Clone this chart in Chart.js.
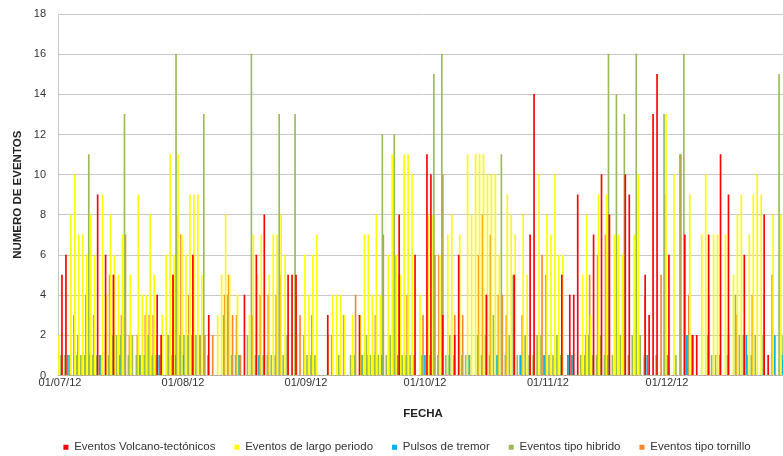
<!DOCTYPE html>
<html>
<head>
<meta charset="utf-8">
<script src="https://cdn.jsdelivr.net/npm/chart.js@4.4.0/dist/chart.umd.min.js"></script>
<style>
    html, body { margin: 0; padding: 0; background: #fff; overflow: hidden; }
    /* the original picture is cropped on the right, so the chart is a bit wider than the window */
    #wrap { width: 812px; height: 456px; position: relative; }
</style>
</head>
<body>
<div id="wrap"><canvas id="eventosChart"></canvas></div>
<script>
// daily counts from 01/07/12 on (one value per day)
var volcanoTectonicos = [
    0,5,6,0,0,0,0,0,0,0, 9,0,6,0,5,0,0,0,0,0, 0,0,0,0,0,4,2,0,0,5, 0,
    0,0,0,6,0,0,0,3,0,0, 0,0,0,0,0,0,4,0,0,6, 0,8,0,0,0,0,0,5,5,5, 0,
    0,0,0,0,0,0,3,0,0,0, 0,0,0,0,3,0,0,0,0,0, 0,0,0,0,8,0,0,0,6,0,
    0,11,10,0,0,3,0,0,2,6, 0,0,0,0,0,0,4,0,0,0, 0,0,0,5,0,0,0,7,14,0, 0,
    0,0,0,0,5,0,4,4,9,0, 0,0,7,0,10,0,8,0,0,0, 10,9,0,0,0,5,3,13,15,0,
    0,6,0,0,0,7,0,2,2,0, 0,7,0,0,11,0,9,0,0,0, 6,0,0,0,0,8,1,0,0,0
];
var largoPeriodo = [
    2,0,0,8,10,7,7,6,8,6, 0,9,4,8,6,5,7,0,5,0, 9,4,4,8,5,0,3,6,11,6, 11,
    7,6,9,9,9,5,0,0,0,3, 5,8,5,0,4,0,0,3,7,5, 7,0,5,7,7,8,6,0,0,2, 0,
    6,4,6,7,0,0,0,4,4,4, 3,0,3,0,3,7,7,4,8,4, 0,6,11,6,5,11,11,10,0,4,
    0,8,8,0,6,0,7,8,0,7, 0,11,8,11,11,11,10,10,10,6, 0,9,8,7,0,8,5,0,0,10, 0,
    8,7,10,6,6,0,0,0,0,5, 8,3,0,9,0,9,0,7,7,6, 0,0,7,10,0,0,0,0,0,0,
    13,0,10,0,0,0,9,0,0,7, 10,0,7,7,0,7,0,5,8,9, 0,7,9,10,9,0,0,8,0,8
];
var pulsosTremor = [
    0,0,1,0,0,0,0,0,0,0, 1,0,0,0,0,1,0,0,0,0, 1,0,0,0,0,1,0,0,0,1, 0,
    1,0,0,0,0,0,0,0,0,0, 0,0,0,0,1,0,0,0,0,1, 0,0,0,0,0,0,0,0,0,0, 0,
    0,0,0,0,0,0,0,0,0,0, 0,0,0,0,1,0,0,0,0,1, 0,0,0,1,0,0,0,0,0,0,
    1,0,0,0,0,0,1,0,0,0, 0,1,0,0,0,0,0,0,1,0, 0,0,0,0,1,0,0,0,0,0, 1,
    0,0,0,0,0,1,1,0,0,0, 0,0,0,0,0,1,0,0,0,0, 0,0,0,0,0,1,0,0,0,0,
    1,0,0,0,0,2,0,0,0,0, 0,0,0,0,0,0,0,0,0,0, 2,0,0,0,0,0,0,2,0,1
];
var tipoHibrido = [
    1,1,0,0,1,1,1,11,1,1, 1,0,1,2,2,2,13,1,2,1, 1,1,2,1,1,1,0,2,1,16, 2,
    2,2,2,2,2,13,1,0,0,0, 3,4,1,1,1,0,2,16,1,1, 1,1,1,1,13,1,2,0,13,0, 0,
    1,1,1,0,0,0,0,0,1,0, 0,1,1,0,1,2,1,1,1,12, 1,2,12,1,1,1,1,1,0,1,
    0,1,15,1,16,1,2,1,0,1, 1,1,0,2,1,2,1,3,1,11, 1,2,5,1,1,2,1,1,2,2, 1,
    1,1,2,1,0,1,1,0,1,1, 2,1,1,2,1,16,1,14,2,13, 1,2,16,2,1,0,0,1,0,13,
    1,0,1,11,16,2,2,0,0,0, 2,1,1,1,0,1,0,4,2,2, 1,1,2,0,2,0,0,2,15,2
];
var tipoTornillo = [
    1,0,1,3,2,0,4,1,3,0, 0,2,5,5,0,3,7,2,0,2, 0,3,3,3,2,0,0,2,5,8, 7,
    0,4,3,0,2,2,0,2,0,0, 4,5,3,3,1,0,0,3,0,4, 1,4,0,4,5,0,0,0,4,3, 2,
    0,3,0,0,0,2,2,0,0,3, 0,0,4,0,0,1,0,3,0,7, 0,0,6,5,0,4,0,0,0,3,
    0,0,6,6,10,0,0,3,0,3, 0,0,0,6,8,4,7,0,4,4, 3,0,0,0,3,0,0,0,0,6, 5,
    0,0,0,5,0,0,0,0,0,2, 5,0,6,0,7,0,0,0,0,0, 0,0,0,0,4,0,0,0,5,9,
    0,0,0,11,0,4,0,0,0,0, 4,0,0,0,0,2,0,3,0,0, 0,4,0,0,4,0,5,0,0,0
];

var seriesNames = ["Eventos Volcano-tectónicos", "Eventos de largo periodo", "Pulsos de tremor", "Eventos tipo hibrido", "Eventos tipo tornillo"];
var seriesColors = ["#ff0000", "#ffff00", "#00b0f0", "#9bbb59", "#f8862e"];
var yTicks = [0, 2, 4, 6, 8, 10, 12, 14, 16, 18];
var numDias = 184; // 01/07/12 .. 31/12/12

// day labels dd/mm/yy
var fechas = [];
var d = new Date(2012, 6, 1);
for (var i = 0; i < numDias; i++) {
    var dd = ("0" + d.getDate()).slice(-2);
    var mm = ("0" + (d.getMonth() + 1)).slice(-2);
    fechas.push(dd + "/" + mm + "/12");
    d.setDate(d.getDate() + 1);
}

var allSeries = [volcanoTectonicos, largoPeriodo, pulsosTremor, tipoHibrido, tipoTornillo];
var datasets = allSeries.map(function(values, k) {
    return {
        label: seriesNames[k],
        data: values,
        backgroundColor: seriesColors[k],
        borderWidth: 0,
        barThickness: 1,
        grouped: true
    };
});

// legend box only spans up to the plot's right edge, nudge it to sit centred under the whole picture
var legendShift = {
    id: 'legendShift',
    afterLayout: function(chart) {
        chart.legend.left += 13;
        chart.legend.right += 13;
    }
};

Chart.defaults.font.family = "'Liberation Sans', Arial, sans-serif";
Chart.defaults.color = "#333";

var ctx = document.querySelector("#eventosChart").getContext("2d");
var eventosChart = new Chart(ctx, {
    type: 'bar',
    data: { labels: fechas, datasets: datasets },
    plugins: [legendShift],
    options: {
        responsive: true,
        maintainAspectRatio: false,
        animation: false,
        devicePixelRatio: 1,
        layout: { padding: { top: 14, right: 24, left: 0, bottom: -7 } },
        plugins: {
            tooltip: { enabled: false },
            legend: {
                position: 'bottom',
                labels: {
                    boxWidth: 5,
                    boxHeight: 5,
                    padding: 19,
                    font: { size: 11.5 },
                    color: '#333'
                }
            }
        },
        scales: {
            x: {
                grid: { display: false, drawTicks: false },
                border: { display: false },
                ticks: {
                    autoSkip: false,
                    maxRotation: 0,
                    padding: 1,
                    font: { size: 11 },
                    color: '#333',
                    callback: function(v, i) {
                        return fechas[i].indexOf("01/") === 0 ? fechas[i] : '';
                    }
                },
                title: { display: true, text: 'FECHA', font: { size: 11.5, weight: 'bold' }, color: '#222', padding: { top: 8, bottom: 2 } },
                afterFit: function(scale) { scale.height = 47; }
            },
            y: {
                min: 0,
                max: 18,
                afterBuildTicks: function(scale) {
                    scale.ticks = yTicks.map(function(v) { return { value: v }; });
                },
                grid: { color: '#c8c8c8', drawTicks: false },
                border: { display: true, color: '#c8c8c8' },
                ticks: { padding: 12, font: { size: 11 }, color: '#333' },
                title: { display: true, text: 'NUMERO DE EVENTOS', font: { size: 11.5, weight: 'bold' }, color: '#222', padding: { top: 11, bottom: 0 } },
                afterFit: function(scale) { scale.width = 58; scale.paddingTop = 0; }
            }
        }
    }
});
</script>
</body>
</html>
